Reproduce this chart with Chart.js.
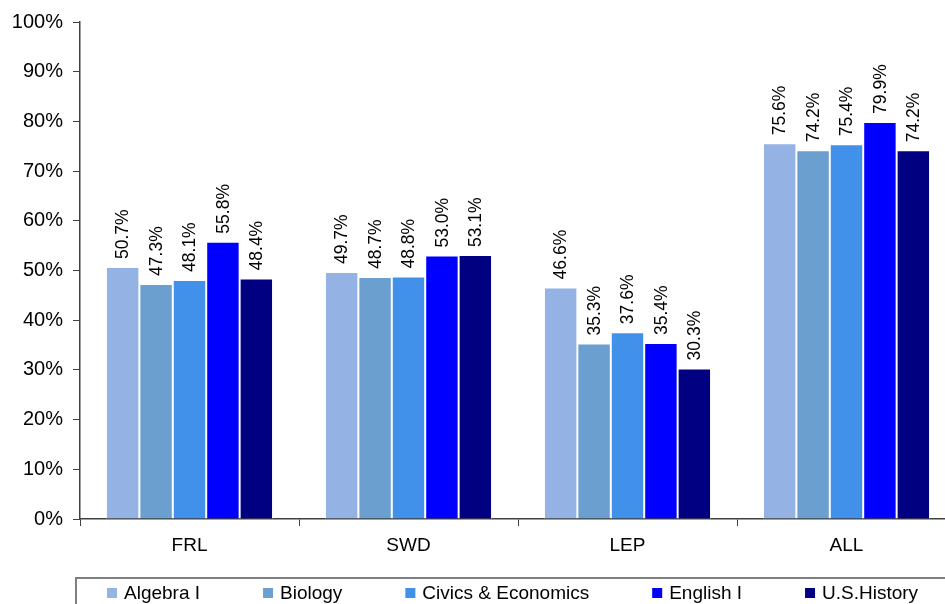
<!DOCTYPE html>
<html>
<head>
<meta charset="utf-8">
<script src="https://cdn.jsdelivr.net/npm/chart.js@4/dist/chart.umd.min.js"></script>
<style>
  html, body { margin: 0; padding: 0; background: #fff; overflow: hidden; width: 945px; height: 604px; }
  canvas { display: block; }
</style>
</head>
<body>
<canvas id="chart" width="960" height="604"></canvas>
<script>
// Student groups along the x axis
const groups = ['FRL', 'SWD', 'LEP', 'ALL'];

// Percent proficient per course, one value per group
const algebraI   = [50.7, 49.7, 46.6, 75.6];
const biology    = [47.3, 48.7, 35.3, 74.2];
const civicsEcon = [48.1, 48.8, 37.6, 75.4];
const englishI   = [55.8, 53.0, 35.4, 79.9];
const usHistory  = [48.4, 53.1, 30.3, 74.2];

const courseNames = ['Algebra I', 'Biology', 'Civics & Economics', 'English I', 'U.S.History'];
const courseValues = [algebraI, biology, civicsEcon, englishI, usHistory];
const courseColors = ['#94B2E4', '#6A9FD0', '#4191EA', '#0000FF', '#000080'];

// Y axis: 0% to 100% in steps of 10
const yMin = 0, yMax = 100, yStep = 10;

const FONT = '"Liberation Sans", Arial, Helvetica, sans-serif';
const AXIS_COLOR = '#404040';

// Rotated value labels above every bar
const valueLabels = {
  id: 'valueLabels',
  afterDatasetsDraw(chart) {
    const ctx = chart.ctx;
    ctx.save();
    ctx.font = '17.5px ' + FONT;
    ctx.fillStyle = '#000';
    ctx.textAlign = 'left';
    ctx.textBaseline = 'middle';
    chart.data.datasets.forEach((ds, di) => {
      chart.getDatasetMeta(di).data.forEach((bar, i) => {
        ctx.save();
        ctx.translate(bar.x, bar.y - 8);
        ctx.rotate(-Math.PI / 2);
        ctx.fillText(ds.data[i].toFixed(1) + '%', 0, 1);
        ctx.restore();
      });
    });
    ctx.restore();
  }
};

// Boxed legend row under the axis
const boxedLegend = {
  id: 'boxedLegend',
  afterDraw(chart) {
    const ctx = chart.ctx;
    ctx.save();
    ctx.strokeStyle = '#7f7f7f';
    ctx.lineWidth = 2;
    ctx.strokeRect(76, 578, 1000, 100);
    ctx.font = '19px ' + FONT;
    ctx.textBaseline = 'middle';
    ctx.textAlign = 'left';
    let x = 107;
    const cy = 593;
    chart.data.datasets.forEach(ds => {
      ctx.fillStyle = ds.backgroundColor;
      ctx.fillRect(x, cy - 5, 10, 10);
      ctx.fillStyle = '#000';
      ctx.fillText(ds.label, x + 17, cy + 1);
      x += 17 + ctx.measureText(ds.label).width + 63;
    });
    ctx.restore();
  }
};

new Chart(document.getElementById('chart'), {
  type: 'bar',
  data: {
    labels: groups,
    datasets: courseNames.map((name, k) => ({
      label: name,
      data: courseValues[k],
      backgroundColor: courseColors[k],
      borderColor: '#ffffff',
      borderWidth: 1,
      borderSkipped: 'bottom',
      barPercentage: 1.0,
      categoryPercentage: 0.763
    }))
  },
  options: {
    responsive: false,
    animation: false,
    devicePixelRatio: 1,
    layout: { padding: { top: 20, right: 4, left: 0, bottom: 0 } },
    plugins: {
      legend: { display: false },
      tooltip: { enabled: false }
    },
    scales: {
      x: {
        grid: { drawOnChartArea: false, drawTicks: true, tickLength: 7, color: AXIS_COLOR, offset: true },
        border: { color: AXIS_COLOR, width: 1.5 },
        ticks: { font: { family: FONT, size: 19 }, color: '#000', padding: 8, maxRotation: 0 },
        afterFit(scale) { scale.height = 85; }
      },
      y: {
        min: yMin,
        max: yMax,
        grid: { drawOnChartArea: false, drawTicks: true, tickLength: 7, color: AXIS_COLOR },
        border: { color: AXIS_COLOR, width: 1.5 },
        ticks: {
          stepSize: yStep,
          font: { family: FONT, size: 20 },
          color: '#000',
          padding: 10,
          callback: v => v + '%'
        },
        afterFit(scale) { scale.width = 80; }
      }
    }
  },
  plugins: [valueLabels, boxedLegend]
});
</script>
</body>
</html>
